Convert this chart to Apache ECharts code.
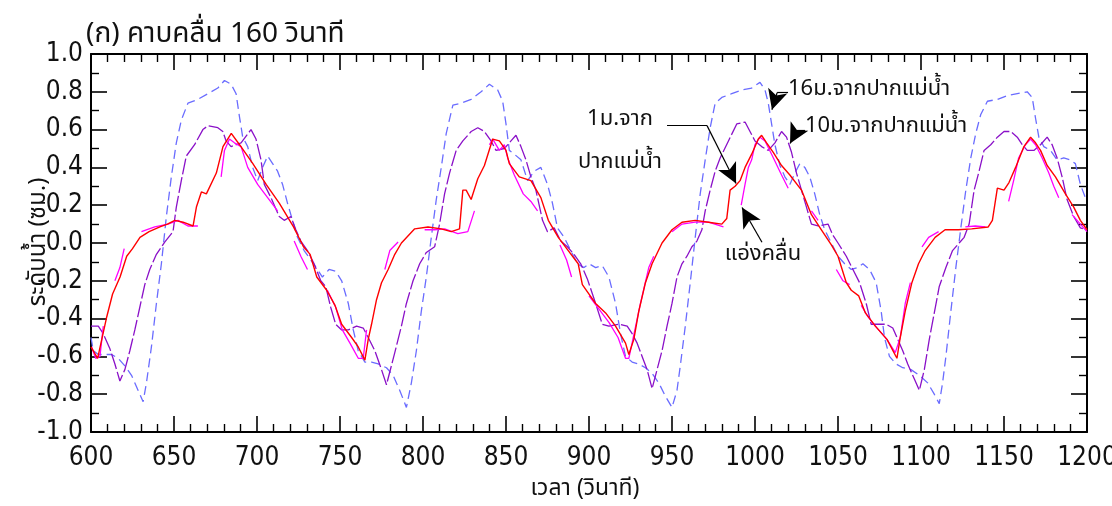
<!DOCTYPE html>
<html>
<head>
<meta charset="utf-8">
<script src="https://cdn.jsdelivr.net/npm/echarts@6/dist/echarts.min.js"></script>
<style>
html,body{margin:0;padding:0;background:#fff;}
#chart{width:1112px;height:506px;}
</style>
</head>
<body>
<div id="chart"></div>
<script>
// ---------- DATA ----------
const xTicks = [600, 650, 700, 750, 800, 850, 900, 950, 1000, 1050, 1100, 1150, 1200];
const yTicks = [-1.0, -0.8, -0.6, -0.4, -0.2, 0.0, 0.2, 0.4, 0.6, 0.8, 1.0];

// แอ่งคลื่น (wave basin) - red
const basinT = [600,604,606,609.5,613,617.5,621.5,625,629.5,635,641.5,646,650.5,655.5,661.5,663.5,666.5,669.5,675.5,679.5,684.5,689.5,697.5,705.5,713.5,722,728,732,736,742,747,751,757,761,765,767,769,772,775,779,783,787,795,803,811,817,822,824,826,829,833,837,842,846,850,852,858,865,871,875.5,881.5,887.5,893.5,896,900,904,910,916,922,924,927,930,934,938,944,950,956,964,972,980,983,985,988,991,994,998,1002,1004,1007,1011,1016,1021,1028,1034,1040,1046,1050,1055,1058,1062.5,1066.5,1072.5,1079.5,1085.5,1087.5,1090.5,1094.5,1098.5,1102.5,1108.5,1114.5,1122.5,1130.5,1140.5,1143,1146,1150,1153,1157,1162,1166,1169,1172,1176,1181,1187,1192,1196,1200];
const basinV = [-0.55,-0.61,-0.53,-0.39,-0.27,-0.18,-0.07,-0.03,0.03,0.06,0.085,0.10,0.12,0.11,0.09,0.19,0.27,0.26,0.37,0.51,0.58,0.52,0.42,0.31,0.21,0.085,-0.02,-0.06,-0.18,-0.25,-0.33,-0.43,-0.50,-0.55,-0.62,-0.51,-0.43,-0.30,-0.21,-0.14,-0.06,0.0,0.075,0.085,0.075,0.06,0.075,0.28,0.28,0.23,0.34,0.41,0.55,0.54,0.49,0.42,0.35,0.33,0.24,0.12,0.03,-0.04,-0.11,-0.22,-0.27,-0.32,-0.37,-0.44,-0.53,-0.59,-0.51,-0.36,-0.21,-0.11,0.0,0.07,0.11,0.12,0.11,0.10,0.13,0.28,0.30,0.33,0.40,0.47,0.55,0.57,0.53,0.48,0.41,0.36,0.28,0.15,0.07,-0.01,-0.07,-0.21,-0.25,-0.28,-0.37,-0.44,-0.51,-0.61,-0.50,-0.36,-0.21,-0.11,-0.04,0.03,0.07,0.07,0.075,0.085,0.12,0.29,0.28,0.32,0.40,0.51,0.56,0.53,0.49,0.41,0.35,0.26,0.19,0.12,0.07];

// 1ม.จากปากแม่น้ำ - magenta (null = gap)
const m1T = [600.4,602.8,605.4,607.4,null,614.4,617.4,620,null,630.4,638.4,646.4,652.4,658.4,664.4,null,678.4,680.4,683.4,686.4,690.4,694.4,700.4,706.4,712.4,null,722.4,726.4,730.4,null,742.4,747.4,751.4,756,761,764,766,null,777,780,785,null,801,807,813,821,827,831,null,840,842,846,849,851,855,860.4,865,869,null,882.5,886.5,889.5,null,900,906,912,917.5,922,924,931,936,939,null,950,956,964,972,981,null,991.7,994,996,998,1000,1003,1006,1010,1016,1020,null,1034,1038,null,1049,1053,1057,null,1064,1068,1072.5,1079.5,1084.5,1087.5,1090.5,1093.6,null,1100.6,1104.6,1110.6,null,1126.7,1132.7,1138.8,null,1152.8,1155.8,1158.8,1162.9,1166,1169,1173,1177,1180,1183,null,1191,1196,1200];
const m1V = [-0.55,-0.61,-0.60,-0.44,null,-0.20,-0.13,-0.03,null,0.06,0.085,0.10,0.12,0.09,0.09,null,0.35,0.49,0.55,0.53,0.51,0.40,0.31,0.24,0.17,null,0.01,-0.07,-0.14,null,-0.25,-0.34,-0.46,-0.53,-0.61,-0.61,-0.46,null,-0.14,-0.04,0.005,null,0.07,0.07,0.075,0.05,0.06,0.17,null,0.52,0.55,0.49,0.52,0.45,0.36,0.26,0.22,0.17,null,-0.01,-0.09,-0.18,null,-0.28,-0.35,-0.42,-0.50,-0.61,-0.61,-0.32,-0.13,-0.07,null,0.06,0.10,0.11,0.11,0.085,null,0.20,0.31,0.40,0.44,0.52,0.56,0.54,0.47,0.36,0.29,null,0.17,0.12,null,-0.14,-0.20,-0.22,null,-0.33,-0.39,-0.44,-0.51,-0.58,-0.50,-0.32,-0.21,null,-0.02,0.03,0.06,null,0.085,0.09,0.085,null,0.22,0.33,0.45,0.52,0.55,0.52,0.45,0.37,0.30,0.24,null,0.15,0.10,0.06];

// 10ม.จากปากแม่น้ำ - purple
const m10T = [600,604.4,607.4,611.4,614.4,617.4,620.4,623.4,626.4,629.4,632.4,635.4,639.4,644.4,649.4,651.4,654.4,657.4,662.4,667.4,670.4,676.4,679.4,681.4,684.4,690.4,696.4,699.4,702.4,704.4,708.4,713.4,716.4,720.4,723.4,726.4,730.4,734.4,738.4,741.4,744.4,747.4,751,755,760,764,767,771,775,778,783,787,790,794,798,802,807,810,813,816,820,824,829,833,837,841,844,849,853,856,859,862,865,868,872,875,879,883,887,891,895,899,904,908,912,918,923,926,929,932,935,938,941,944,947,950,953,956,959,962,965,968,970,973,976,979,984,989,994,997,1000,1004,1008,1012,1016,1019,1022,1025,1028,1031,1034,1038,1044,1047,1050,1055,1059,1063,1067,1070,1074,1079,1083,1086,1089,1092,1096,1099,1102,1105,1108,1111,1115,1119,1123,1126,1129,1132,1135,1138,1142,1146,1150,1154,1158,1161,1164,1168,1172,1176,1179,1182,1185,1188,1192,1196,1200];
const m10V = [-0.44,-0.44,-0.48,-0.56,-0.64,-0.73,-0.67,-0.57,-0.46,-0.34,-0.22,-0.14,-0.06,0.005,0.06,0.19,0.33,0.46,0.52,0.60,0.62,0.61,0.59,0.54,0.51,0.53,0.60,0.55,0.44,0.31,0.24,0.14,0.12,0.14,0.07,0.01,-0.04,-0.11,-0.20,-0.23,-0.34,-0.43,-0.46,-0.46,-0.44,-0.45,-0.50,-0.57,-0.67,-0.75,-0.58,-0.44,-0.32,-0.20,-0.11,-0.05,-0.02,0.10,0.26,0.37,0.49,0.54,0.59,0.61,0.59,0.54,0.49,0.50,0.54,0.57,0.51,0.44,0.35,0.28,0.12,0.06,0.08,0.01,-0.02,-0.06,-0.11,-0.19,-0.32,-0.43,-0.44,-0.43,-0.44,-0.48,-0.53,-0.60,-0.67,-0.77,-0.67,-0.57,-0.44,-0.32,-0.18,-0.11,-0.07,-0.02,0.01,0.07,0.17,0.28,0.38,0.45,0.54,0.63,0.64,0.59,0.54,0.51,0.49,0.53,0.59,0.56,0.48,0.37,0.28,0.19,0.10,0.09,0.10,0.04,0.0,-0.07,-0.14,-0.21,-0.32,-0.43,-0.43,-0.43,-0.45,-0.51,-0.57,-0.64,-0.72,-0.78,-0.67,-0.51,-0.37,-0.23,-0.13,-0.04,0.0,0.03,0.10,0.28,0.38,0.49,0.52,0.56,0.59,0.59,0.56,0.52,0.49,0.49,0.52,0.56,0.52,0.45,0.35,0.23,0.14,0.08,0.07];

// 16ม.จากปากแม่น้ำ - blue
const m16T = [600,601.4,604.4,608.4,612.4,616.4,620.4,624.4,628.4,631.4,633.4,636.4,639.4,642.4,645.4,648.4,651.4,654.4,658.4,664.4,670.4,676.4,680.4,684.4,687.4,689.4,691.4,694.4,697.4,700.4,703.4,706.4,709.4,712.4,715.4,718.4,721.4,724.4,728.4,732.4,736.4,739.4,743.4,747.4,751,755,758,761,765,769,773,778,782,786,790,793,796,799,802,805,808,811,814,818,823,829,835,840,845,848,850,852,855,859,863,867,871,875,878,881,885,889,893,897,900,904,908,912,916,919,922,926,930,934,938,942,946,950,953,955,958,961,964,967,970,973,976,980,986,992,998,1003,1006,1008,1010,1012,1015,1018,1021,1024,1027,1030,1033,1036,1039,1042,1046,1050,1054,1058,1062,1065,1069,1073,1076,1078,1081,1085,1089,1094,1099,1104,1108,1111,1113,1115,1118,1121,1124,1127,1130,1133,1136,1140,1146,1152,1158,1164,1167,1169,1171,1174,1178,1182,1186,1190,1193,1196,1199];
const m16V = [-0.50,-0.57,-0.59,-0.59,-0.59,-0.61,-0.65,-0.70,-0.78,-0.84,-0.74,-0.55,-0.32,-0.11,0.14,0.35,0.53,0.65,0.74,0.76,0.79,0.82,0.86,0.84,0.79,0.67,0.56,0.51,0.40,0.33,0.40,0.46,0.42,0.38,0.31,0.21,0.12,0.03,-0.04,-0.09,-0.14,-0.18,-0.14,-0.15,-0.20,-0.32,-0.46,-0.57,-0.63,-0.63,-0.64,-0.66,-0.70,-0.78,-0.87,-0.74,-0.57,-0.36,-0.18,0.03,0.23,0.40,0.58,0.73,0.74,0.76,0.80,0.84,0.81,0.75,0.63,0.49,0.47,0.44,0.33,0.38,0.40,0.31,0.21,0.08,0.03,-0.04,-0.11,-0.13,-0.11,-0.13,-0.12,-0.18,-0.32,-0.48,-0.60,-0.63,-0.64,-0.66,-0.69,-0.74,-0.81,-0.87,-0.78,-0.65,-0.44,-0.21,0.03,0.26,0.44,0.61,0.74,0.77,0.79,0.81,0.82,0.85,0.81,0.74,0.63,0.52,0.41,0.35,0.31,0.37,0.42,0.40,0.35,0.26,0.15,0.07,0.0,-0.07,-0.11,-0.14,-0.13,-0.11,-0.14,-0.21,-0.36,-0.50,-0.60,-0.64,-0.66,-0.67,-0.70,-0.74,-0.80,-0.85,-0.74,-0.60,-0.36,-0.13,0.08,0.28,0.45,0.58,0.68,0.75,0.76,0.78,0.79,0.80,0.77,0.66,0.56,0.51,0.49,0.44,0.45,0.44,0.42,0.31,0.24];

// annotation anchor points (data coordinates: time, level)
const arrow16 = [[1019.9, 0.795], [1013.3, 0.795], [1010.2, 0.705]];
const arrow10 = [[1030.1, 0.595], [1025.3, 0.595], [1021.1, 0.526]];
const arrow1  = [[947.0, 0.621], [971.1, 0.621], [988.6, 0.315]];
const arrowB  = [[1004.2, 0.004], [992.2, 0.188]];

// ---------- CHART ----------
const THAI = "'Noto Sans Thai','Noto Sans Thai UI','Loma','Garuda','Norasi','Tlwg Typo','Noto Sans','DejaVu Sans',sans-serif";
const NUM = "'Liberation Sans Narrow','Arial Narrow','DejaVu Sans Condensed',sans-serif";

function pairs(T, V) {
  const out = [];
  for (let i = 0; i < T.length; i++) {
    if (V[i] === null || T[i] === null) out.push([T[i - 1], '-']);
    else out.push([T[i], V[i]]);
  }
  return out;
}

function polyArrow(pts) {
  const segs = [];
  for (let i = 0; i < pts.length - 1; i++) {
    const last = i === pts.length - 2;
    segs.push([
      { coord: pts[i], symbol: 'none' },
      { coord: pts[i + 1], symbol: last ? 'arrow' : 'none', symbolSize: last ? [15, 20] : 0 }
    ]);
  }
  return segs;
}

const chart = echarts.init(document.getElementById('chart'), null, { renderer: 'canvas' });

const axisCommon = {
  type: 'value',
  axisLine: { show: true, onZero: false, lineStyle: { color: '#000', width: 2 } },
  axisTick: { show: true, inside: true, length: 16, lineStyle: { color: '#000', width: 1.6 } },
  minorTick: { show: true, length: 8, lineStyle: { color: '#000', width: 1.4 } },
  splitLine: { show: false },
  minorSplitLine: { show: false }
};

const xMin = xTicks[0], xMax = xTicks[xTicks.length - 1];
const yMin = yTicks[0], yMax = yTicks[yTicks.length - 1];

const option = {
  animation: false,
  backgroundColor: '#fff',
  grid: { left: 91, right: 25, top: 54, bottom: 74, containLabel: false, outerBoundsMode: 'none' },
  xAxis: [
    Object.assign({}, axisCommon, {
      position: 'bottom', min: xMin, max: xMax, interval: 50,
      minorTick: Object.assign({}, axisCommon.minorTick, { splitNumber: 5 }),
      axisLabel: { show: true, fontFamily: NUM, fontSize: 26, color: '#111', margin: 13, formatter: v => String(Math.round(v)), hideOverlap: false }
    }),
    Object.assign({}, axisCommon, {
      position: 'top', min: xMin, max: xMax, interval: 50,
      minorTick: Object.assign({}, axisCommon.minorTick, { splitNumber: 5 }),
      axisLabel: { show: false }
    })
  ],
  yAxis: [
    Object.assign({}, axisCommon, {
      position: 'left', min: yMin, max: yMax, interval: 0.2,
      minorTick: Object.assign({}, axisCommon.minorTick, { splitNumber: 2 }),
      axisLabel: {
        show: true, fontFamily: NUM, fontSize: 26, color: '#111', margin: 8,
        formatter: v => (Math.abs(v) < 1e-9 ? '0.0' : v.toFixed(1))
      }
    }),
    Object.assign({}, axisCommon, {
      position: 'right', min: yMin, max: yMax, interval: 0.2,
      minorTick: Object.assign({}, axisCommon.minorTick, { splitNumber: 2 }),
      axisLabel: { show: false }
    })
  ],
  series: [
    {
      name: '16ม.จากปากแม่น้ำ', type: 'line', showSymbol: false, symbol: 'none',
      data: pairs(m16T, m16V), connectNulls: false, z: 2,
      lineStyle: { color: '#6a6cff', width: 1.3, type: [9, 5] }
    },
    {
      name: '10ม.จากปากแม่น้ำ', type: 'line', showSymbol: false, symbol: 'none',
      data: pairs(m10T, m10V), connectNulls: false, z: 3,
      lineStyle: { color: '#8a10c8', width: 1.3, type: [16, 3] }
    },
    {
      name: '1ม.จากปากแม่น้ำ', type: 'line', showSymbol: false, symbol: 'none',
      data: pairs(m1T, m1V), connectNulls: false, z: 4,
      lineStyle: { color: '#ff00ff', width: 1.3 }
    },
    {
      name: 'แอ่งคลื่น', type: 'line', showSymbol: false, symbol: 'none',
      data: pairs(basinT, basinV), connectNulls: false, z: 5,
      lineStyle: { color: '#ff0000', width: 1.4 },
      markLine: {
        silent: true, animation: false,
        label: { show: false },
        lineStyle: { color: '#000', width: 1.2, type: 'solid' },
        emphasis: { disabled: true },
        data: [].concat(polyArrow(arrow16), polyArrow(arrow10), polyArrow(arrow1), polyArrow(arrowB))
      }
    }
  ],
  graphic: [
    { type: 'text', x: 86, y: 36, style: { text: '(ก) คาบคลื่น 160 วินาที', font: "28px " + THAI, fill: '#111', align: 'left', verticalAlign: 'middle' } },
    { type: 'text', x: 40, y: 242, rotation: Math.PI / 2, style: { text: 'ระดับน้ำ (ซม.)', font: "24px " + THAI, fill: '#111', align: 'center', verticalAlign: 'middle' } },
    { type: 'text', x: 585, y: 490, style: { text: 'เวลา (วินาที)', font: "23px " + THAI, fill: '#111', align: 'center', verticalAlign: 'middle' } },
    { type: 'text', x: 788, y: 91, style: { text: '16ม.จากปากแม่น้ำ', font: "22px " + THAI, fill: '#111', align: 'left', verticalAlign: 'middle' } },
    { type: 'text', x: 805, y: 128, style: { text: '10ม.จากปากแม่น้ำ', font: "22px " + THAI, fill: '#111', align: 'left', verticalAlign: 'middle' } },
    { type: 'text', x: 620, y: 121, style: { text: '1ม.จาก', font: "22px " + THAI, fill: '#111', align: 'center', verticalAlign: 'middle' } },
    { type: 'text', x: 620, y: 164, style: { text: 'ปากแม่น้ำ', font: "22px " + THAI, fill: '#111', align: 'center', verticalAlign: 'middle' } },
    { type: 'text', x: 763, y: 256, style: { text: 'แอ่งคลื่น', font: "22px " + THAI, fill: '#111', align: 'center', verticalAlign: 'middle' } }
  ]
};

chart.setOption(option);
</script>
</body>
</html>
